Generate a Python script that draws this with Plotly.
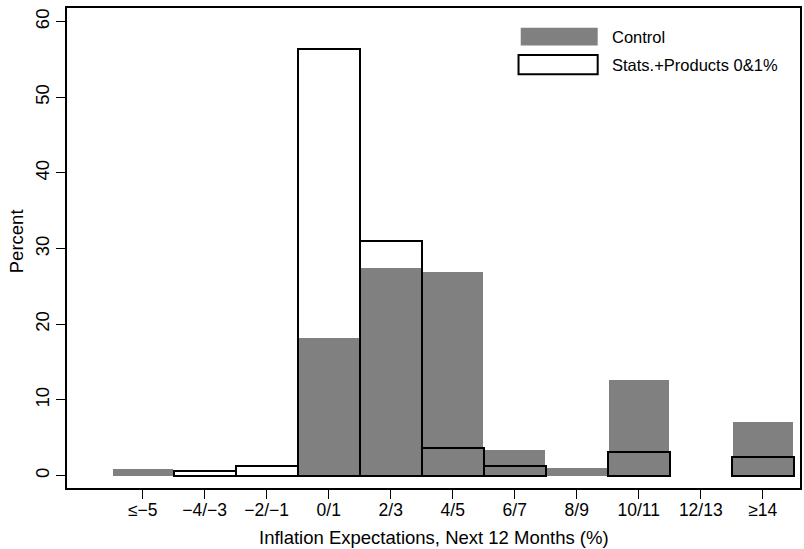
import plotly.graph_objects as go

categories = ["≤−5", "−4/−3", "−2/−1", "0/1", "2/3", "4/5", "6/7", "8/9", "10/11", "12/13", "≥14"]
control = [0.85, 0, 0, 18.15, 27.5, 26.95, 3.4, 0.98, 12.64, 0, 7.05]
treated = [0, 0.66, 1.24, 56.4, 31.0, 3.7, 1.24, 0, 3.09, 0, 2.47]
y_ticks = [0, 10, 20, 30, 40, 50, 60]

FONT = "Liberation Sans, Arial, sans-serif"
GRAY = "#808080"


def nonzero(xs, ys):
    pairs = [(x, y) for x, y in zip(xs, ys) if y > 0]
    return [p[0] for p in pairs], [p[1] for p in pairs]


cx, cy = nonzero(categories, control)
tx, ty = nonzero(categories, treated)

fig = go.Figure()
# invisible trace to fix category order
fig.add_trace(go.Bar(x=categories, y=[0] * len(categories), showlegend=False, hoverinfo="skip",
                     marker=dict(color="rgba(0,0,0,0)", line=dict(width=0))))
fig.add_trace(go.Bar(x=cx, y=cy, name="Control", width=0.97,
                     marker=dict(color=GRAY, line=dict(width=0)), showlegend=False))
fig.add_trace(go.Bar(x=tx, y=ty, name="Stats.+Products 0&1%", width=1.0,
                     marker=dict(color="rgba(0,0,0,0)", line=dict(color="black", width=2)),
                     showlegend=False))

# Legend (drawn manually to match the large key boxes)
fig.add_shape(type="rect", xref="paper", yref="paper", x0=0.619, x1=0.724, y0=0.922, y1=0.959,
              fillcolor=GRAY, line=dict(width=0))
fig.add_shape(type="rect", xref="paper", yref="paper", x0=0.616, x1=0.724, y0=0.862, y1=0.902,
              fillcolor="white", line=dict(color="black", width=2))
fig.add_annotation(xref="paper", yref="paper", x=0.741, y=0.94, text="Control", showarrow=False,
                   xanchor="left", yanchor="middle", font=dict(size=16.5, color="black", family=FONT))
fig.add_annotation(xref="paper", yref="paper", x=0.741, y=0.882, text="Stats.+Products 0&1%",
                   showarrow=False, xanchor="left", yanchor="middle",
                   font=dict(size=16.5, color="black", family=FONT))

# Axis titles
fig.add_annotation(xref="paper", yref="paper", x=0.5, y=-0.104, text="Inflation Expectations, Next 12 Months (%)",
                   showarrow=False, xanchor="center", yanchor="middle",
                   font=dict(size=18.5, color="black", family=FONT))
fig.add_annotation(xref="paper", yref="paper", x=-0.069, y=0.515, text="Percent", textangle=-90,
                   showarrow=False, xanchor="center", yanchor="middle",
                   font=dict(size=18.5, color="black", family=FONT))

fig.update_layout(
    width=804, height=549,
    margin=dict(l=67, r=4, t=8, b=61, autoexpand=False),
    paper_bgcolor="white", plot_bgcolor="white",
    barmode="overlay", bargap=0,
    font=dict(family=FONT, color="black", size=18),
)
fig.update_xaxes(
    type="category", categoryorder="array", categoryarray=categories,
    range=[-1.22, 10.6], automargin=False,
    showline=True, linecolor="black", linewidth=1.5, mirror=True,
    ticks="outside", ticklen=9, tickcolor="black", tickwidth=1,
    showgrid=False, zeroline=False, ticklabelstandoff=-4,
    tickfont=dict(size=17.5),
)
fig.update_yaxes(
    range=[-1.63, 61.8], tickvals=y_ticks, automargin=False,
    showline=True, linecolor="black", linewidth=1.5, mirror=True,
    ticks="outside", ticklen=9, tickcolor="black", tickwidth=1,
    showgrid=False, zeroline=False,
    tickangle=-90, tickfont=dict(size=18.5),
)

fig.write_html("out.html", config={"displayModeBar": False})
with open("out.html", "r", encoding="utf-8") as f:
    html = f.read()
html = html.replace("<head>", "<head><style>html,body{margin:0;padding:0;}</style>", 1)
with open("out.html", "w", encoding="utf-8") as f:
    f.write(html)
